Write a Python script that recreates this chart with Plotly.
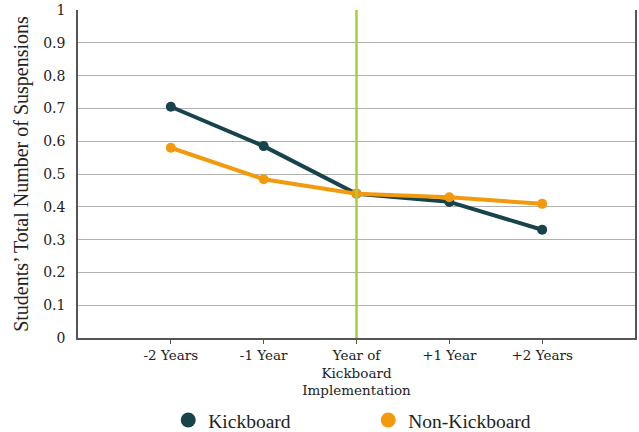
import plotly.graph_objects as go

categories = ["-2 Years", "-1 Year", "Year of<br>Kickboard<br>Implementation", "+1 Year", "+2 Years"]
kickboard = [0.705, 0.585, 0.44, 0.415, 0.33]
non_kickboard = [0.58, 0.484, 0.44, 0.429, 0.409]
y_ticks = [0, 0.1, 0.2, 0.3, 0.4, 0.5, 0.6, 0.7, 0.8, 0.9, 1]
y_labels = ["0", "0.1", "0.2", "0.3", "0.4", "0.5", "0.6", "0.7", "0.8", "0.9", "1"]
implementation_index = 2
series_names = ["Kickboard", "Non-Kickboard"]
series_colors = ["#17434b", "#f39a0c"]

xpos = list(range(len(categories)))
font_family = "Liberation Serif"
tick_family = "DejaVu Serif"

fig = go.Figure()
for name, values, color in zip(series_names, [kickboard, non_kickboard], series_colors):
    fig.add_trace(go.Scatter(
        x=xpos, y=values, name=name, mode="lines+markers", showlegend=False,
        line=dict(color=color, width=4), marker=dict(color=color, size=10),
    ))
# legend-only entries (marker symbol as in the reference legend)
for name, color in zip(series_names, series_colors):
    fig.add_trace(go.Scatter(
        x=[None], y=[None], name=name, mode="markers",
        marker=dict(color=color, size=15),
    ))

fig.add_shape(type="line", xref="x", yref="y", x0=implementation_index, x1=implementation_index,
              y0=0, y1=1, line=dict(color="#a6cf3a", width=2.5), layer="above")

fig.update_layout(
    width=639, height=432,
    margin=dict(l=78, r=4, t=10, b=94),
    paper_bgcolor="white", plot_bgcolor="white",
    font=dict(family=font_family, color="#222222", size=16),
    showlegend=True,
    legend=dict(orientation="h", x=0.162, xanchor="left", xref="paper",
                y=0.072, yanchor="top", yref="container",
                bgcolor="rgba(0,0,0,0)",
                font=dict(size=19.5, family=font_family), entrywidth=155),
)
fig.update_xaxes(
    range=[-1, 5], tickmode="array", tickvals=xpos, ticktext=categories, automargin=False,
    showgrid=False, zeroline=False, showline=True, linecolor="#555555", linewidth=1.5,
    ticks="outside", ticklen=4, tickcolor="#555555",
    tickfont=dict(size=13.5, family=tick_family),
)
fig.update_yaxes(
    range=[0, 1], tickmode="array", tickvals=y_ticks, ticktext=y_labels, automargin=False,
    showgrid=True, gridcolor="#b0b0b0", gridwidth=1, zeroline=False,
    showline=True, linecolor="#555555", linewidth=1.5, mirror=True,
    ticks="", tickfont=dict(size=14, family=tick_family), ticklabelstandoff=8,
    title=dict(text="Students’ Total Number of Suspensions", font=dict(size=20), standoff=9),
)

fig.write_html(
    "out.html",
    config={"displayModeBar": False},
    post_script="document.body.style.margin='0';document.body.style.overflow='hidden';",
)
